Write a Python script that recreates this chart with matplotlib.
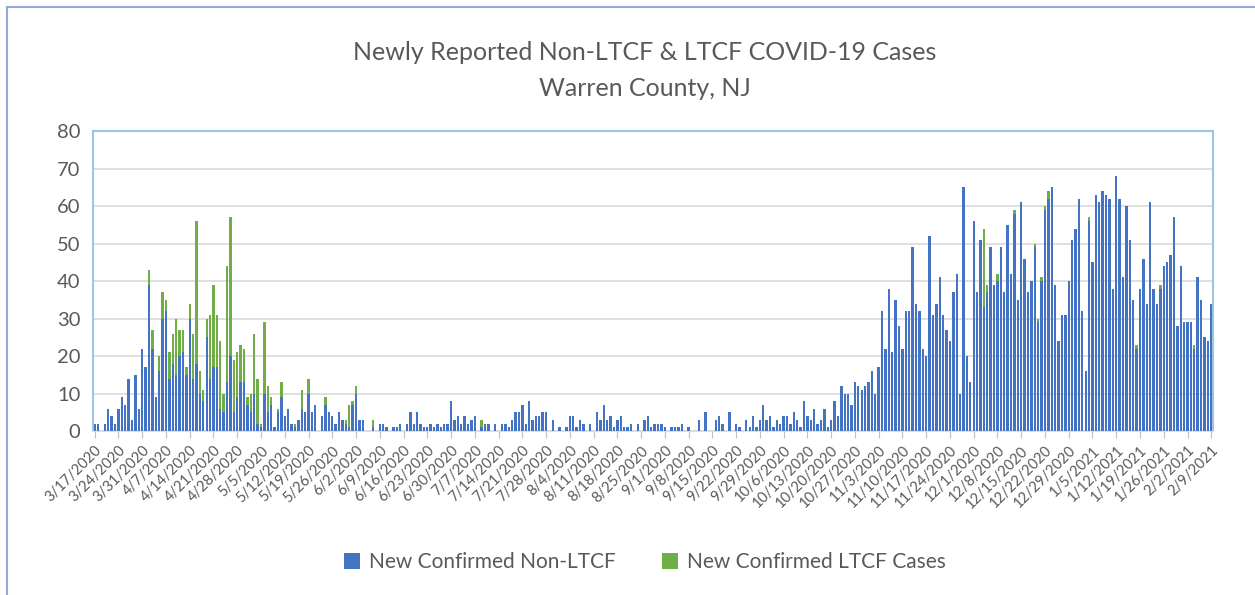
import numpy as np
import pandas as pd
import matplotlib
matplotlib.use("Agg")
from matplotlib import pyplot as plt
from matplotlib.patches import Rectangle

# daily counts, 3/17/2020 .. 2/9/2021
non_ltcf = [
    2, 2, 0, 2, 6, 4, 2, 6, 9, 7, 14, 3, 15, 6, 22, 17, 39, 22, 9, 16,
    30, 32, 14, 18, 15, 20, 21, 15, 30, 14, 18, 10, 8, 25, 14, 17, 17, 6, 5, 13,
    20, 5, 9, 13, 13, 7, 5, 10, 2, 1, 10, 5, 7, 1, 5, 9, 4,
    6, 2, 1, 3, 6, 5, 10, 5, 7, 0, 4, 7, 5, 4, 2, 5, 3, 2, 1, 7,
    10, 3, 3, 0, 0, 1, 0, 2, 2, 1, 0, 1, 1, 2, 0, 2, 5, 2, 5, 2,
    1, 1, 2, 1, 2, 1, 2, 2, 8, 3, 4, 2, 4, 2, 3, 4,
    0, 1, 2, 2, 0, 2, 0, 2, 2, 1, 3, 5, 5, 7, 2, 8, 3, 4, 4, 5,
    5, 0, 3, 0, 1, 0, 1, 4, 4, 1, 3, 2, 0, 2, 0, 5, 3, 7, 3, 4,
    1, 3, 4, 1, 1, 2, 0, 2, 0, 3, 4, 1, 2,
    2, 2, 1, 0, 1, 1, 1, 2, 0, 1, 0, 0, 3, 0, 5, 0, 0, 3, 4, 2,
    0, 5, 0, 2, 1, 0, 3, 1, 4, 1, 3, 7, 3, 4, 1, 3, 2, 4, 4, 2,
    5, 3, 1, 8, 4, 3, 6, 2, 3, 6, 1, 3, 8, 4, 12, 10, 10, 7,
    13, 12, 11, 12, 13, 16, 10, 17, 32, 22, 38, 21, 35, 28, 22, 32, 32, 49, 34, 32,
    22, 20, 52, 31, 34, 41, 31, 27, 24, 37, 42, 10, 65, 20, 13, 56, 37, 51, 33, 37,
    49, 39, 40, 49, 37, 55, 42, 58, 35, 61, 46, 37, 40, 49, 29, 40,
    59, 62, 65, 39, 24, 31, 31, 40, 51, 54, 62, 32, 16, 56, 45, 63, 61, 64, 63, 62,
    38, 68, 62, 41, 60, 51, 35, 22, 38, 46, 34, 61, 38, 34, 38, 44, 45, 47, 57, 28,
    44, 29, 29, 29, 22, 41, 35, 25, 24, 34,
]

# LTCF cases on the days where a green segment shows (day index -> count)
ltcf_days = [16, 17, 19, 20, 21, 22, 23, 24, 25, 26, 27, 28, 29, 30, 31, 32, 33, 34,
             35, 36, 37, 38, 39, 40, 41, 42, 43, 44, 45, 46, 47, 48, 49, 50, 51, 52,
             54, 55, 59, 61, 63, 68, 74, 75, 76, 77, 82, 114,
             262, 263, 266, 271, 277, 278, 279, 280, 281, 293, 307, 314, 324]
ltcf_vals = [4, 5, 4, 7, 3, 7, 8, 15, 7, 6, 2, 4, 12, 38, 6, 3, 5, 17,
             22, 14, 18, 5, 31, 37, 14, 12, 10, 9, 2, 5, 16, 12, 1, 19, 7, 2,
             1, 4, 1, 5, 4, 2, 1, 6, 1, 2, 2, 2,
             21, 2, 2, 1, 1, 1, 1, 1, 2, 1, 1, 1, 1]

dates = pd.date_range("2020-03-17", periods=len(non_ltcf), freq="D")
ltcf = np.zeros(len(non_ltcf))
ltcf[ltcf_days] = ltcf_vals

blue = "#4472C4"
green = "#70AD47"
grey_text = "#595959"

plt.rcParams["font.family"] = ["Lato", "DejaVu Sans"]

fig = plt.figure(figsize=(12.55, 5.95), dpi=100)
ax = fig.add_axes([0.0741, 0.2756, 0.8924, 0.5042])

x = np.arange(len(non_ltcf))
ax.bar(x, non_ltcf, width=0.7, color=blue, label="New Confirmed Non-LTCF", zorder=3)
ax.bar(x, ltcf, width=0.7, bottom=non_ltcf, color=green, label="New Confirmed LTCF Cases", zorder=3)

ax.set_xlim(-0.5, len(x) - 0.5)
ax.set_ylim(0, 80)
ax.set_yticks(range(0, 81, 10))
ax.yaxis.grid(True, color="#D9D9D9", linewidth=1.2, zorder=0)
ax.tick_params(axis="y", length=0, labelsize=14.5, labelcolor=grey_text, pad=9)

tick_pos = x[::7]
ax.set_xticks(tick_pos)
ax.set_xticklabels([f"{d.month}/{d.day}/{d.year}" for d in dates[::7]],
                   rotation=45, ha="right", rotation_mode="anchor", fontsize=10.5, color=grey_text)
ax.tick_params(axis="x", length=5, color="#BFBFBF", pad=4)

for side in ["left", "top", "right"]:
    ax.spines[side].set_color("#9DC3E6")
    ax.spines[side].set_linewidth(1.5)
ax.spines["bottom"].set_color("#D9D9D9")
ax.spines["bottom"].set_linewidth(1.2)

fig.text(0.514, 0.912, "Newly Reported Non-LTCF & LTCF COVID-19 Cases",
         ha="center", va="center", fontsize=18, color=grey_text)
fig.text(0.514, 0.852, "Warren County, NJ",
         ha="center", va="center", fontsize=18, color=grey_text)

leg = ax.legend(loc="center", bbox_to_anchor=(0.514, 0.055), bbox_transform=fig.transFigure,
                ncol=2, frameon=False, fontsize=15, handlelength=0.75, handleheight=0.75,
                columnspacing=2.2, handletextpad=0.45)
for t in leg.get_texts():
    t.set_color(grey_text)

# outer chart border (cropped at right and bottom)
fig.patches.append(Rectangle((7 / 1255, -0.05), 1.1, 1 - 7 / 595 + 0.05, transform=fig.transFigure,
                             fill=False, edgecolor="#8EAADB", linewidth=1.5))

fig.savefig("out.png", dpi=100)
